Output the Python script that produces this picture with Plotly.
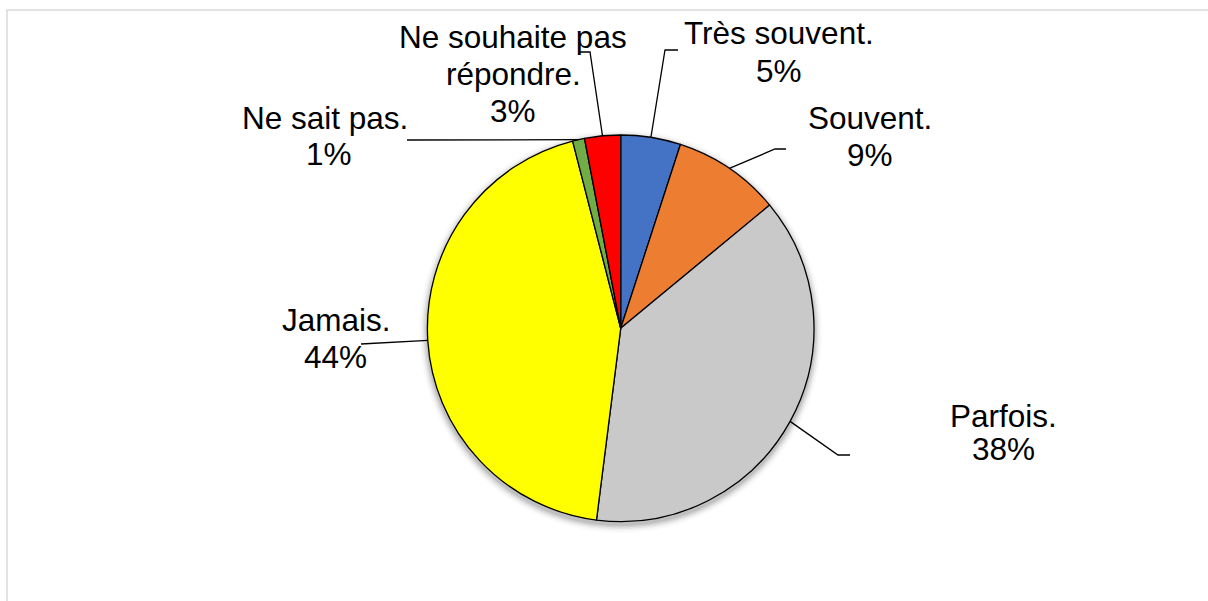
import math
import plotly.graph_objects as go

# Survey answers, clockwise from 12 o'clock
categories = ["Très souvent.", "Souvent.", "Parfois.", "Jamais.", "Ne sait pas.", "Ne souhaite pas répondre."]
values = [5, 9, 38, 44, 1, 3]
colors = ["#4472C4", "#ED7D31", "#C9C9C9", "#FFFF00", "#70AD47", "#FF0000"]

W, H = 1208, 601
CX, CY, R = 620.7, 328.3, 193.3
FONT = "Liberation Sans, Arial, sans-serif"
FS = 31.5

# label layout: text lines (name lines, then percentage), centre x, y of first line, line step,
# and the leader line path from the slice edge (elbow, end)
label_layout = {
    "Très souvent.": dict(lines=["Très souvent."], x=779, y=33, step=37.5, x2=778.5, path=[(665, 50), (678, 50)]),
    "Souvent.": dict(lines=["Souvent."], x=870, y=118, step=37, x2=870, path=[(775, 149), (786, 149)]),
    "Parfois.": dict(lines=["Parfois."], x=1003.5, y=416, step=32.5, x2=1003.5, path=[(838, 455), (850, 455)]),
    "Jamais.": dict(lines=["Jamais."], x=336, y=320, step=36.5, x2=335, path=[(361, 344)]),
    "Ne sait pas.": dict(lines=["Ne sait pas."], x=325, y=117.5, step=36.5, x2=328.5, path=[(407, 140)]),
    "Ne souhaite pas répondre.": dict(lines=["Ne souhaite pas", "répondre."], x=513, y=36.5, step=37.2, x2=512.5,
                                      path=[(590, 52), (580, 52)]),
}

fig = go.Figure()

fig.add_trace(go.Pie(
    labels=categories,
    values=values,
    sort=False,
    direction="clockwise",
    rotation=0,
    marker=dict(colors=colors, line=dict(color="#000000", width=1.3)),
    textinfo="none",
    hoverinfo="label+percent",
    showlegend=False,
    domain=dict(x=[(CX - R) / W, (CX + R) / W], y=[1 - (CY + R) / H, 1 - (CY - R) / H]),
))

shapes = []
# chart-area border
shapes.append(dict(type="rect", xref="x", yref="y", x0=7, y0=10, x1=W + 20, y1=H + 20,
                   line=dict(color="#D9D9D9", width=1.5), fillcolor="rgba(0,0,0,0)", layer="below"))
# soft shadow around the pie
for dr, op in [(8, 0.025), (6, 0.035), (4.5, 0.05), (3, 0.07), (1.5, 0.09)]:
    shapes.append(dict(type="circle", xref="x", yref="y",
                       x0=CX - R - dr, x1=CX + R + dr, y0=CY - R - dr + 3, y1=CY + R + dr + 3,
                       line=dict(width=0), fillcolor=f"rgba(0,0,0,{op})", layer="below"))

annotations = []
total = sum(values)
cum = 0
for cat, val in zip(categories, values):
    mid = (cum + val / 2) / total * 2 * math.pi
    cum += val
    sx = CX + R * math.sin(mid)
    sy = CY - R * math.cos(mid)
    lay = label_layout[cat]
    pts = [(sx, sy)] + lay["path"]
    path = "M " + " L ".join(f"{px:.1f},{py:.1f}" for px, py in pts)
    shapes.append(dict(type="path", xref="x", yref="y", path=path,
                       line=dict(color="#000000", width=1.3), layer="above"))
    y = lay["y"]
    for line in lay["lines"]:
        annotations.append(dict(x=lay["x"], y=y, xref="x", yref="y", text=line, showarrow=False,
                                xanchor="center", yanchor="middle",
                                font=dict(family=FONT, size=FS, color="#000000")))
        y += lay["step"]
    pct = round(val / total * 100)
    annotations.append(dict(x=lay["x2"], y=y, xref="x", yref="y", text=f"{pct}%", showarrow=False,
                            xanchor="center", yanchor="middle",
                            font=dict(family=FONT, size=FS, color="#000000")))

fig.update_layout(
    width=W, height=H,
    margin=dict(l=0, r=0, t=0, b=0),
    paper_bgcolor="#FFFFFF",
    plot_bgcolor="rgba(0,0,0,0)",
    xaxis=dict(range=[0, W], visible=False, fixedrange=True),
    yaxis=dict(range=[H, 0], visible=False, fixedrange=True),
    shapes=shapes,
    annotations=annotations,
    showlegend=False,
)

fig.write_html("out.html")
